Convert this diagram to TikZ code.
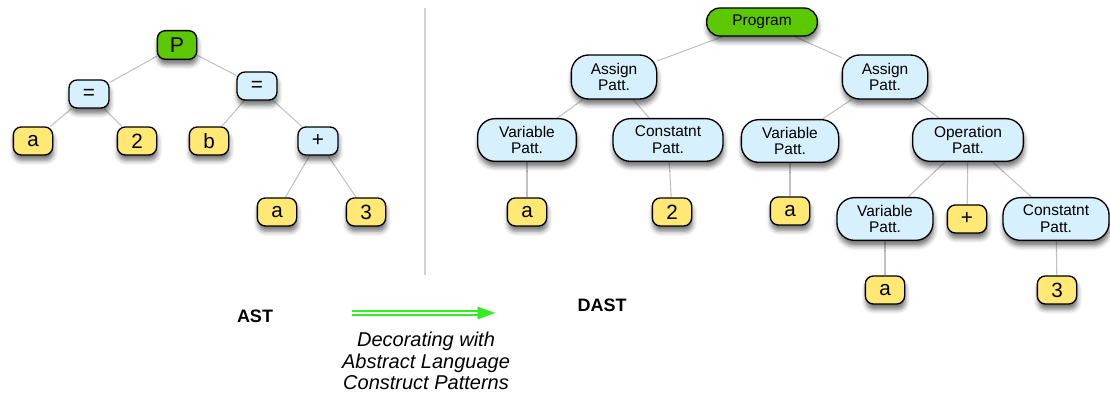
\documentclass[tikz,border=0pt]{standalone}
\usepackage{fontspec}
\setmainfont{Liberation Sans}
\usetikzlibrary{shadows.blur,arrows.meta}
\pgfdeclarelayer{background}
\pgfsetlayers{background,main}
\definecolor{leafyellow}{HTML}{FFE873}
\definecolor{pattblue}{HTML}{D6F1FD}
\definecolor{rootgreen}{HTML}{5CC800}
\definecolor{edgegray}{HTML}{C2C2C2}
\definecolor{divgray}{HTML}{D0D0D0}
\definecolor{arrowgreen}{HTML}{33EE22}
\tikzset{
  box/.style={draw=black, line width=1pt, inner sep=0pt, align=center,
    blur shadow={shadow xshift=0.6pt, shadow yshift=-4pt, shadow blur radius=3.5pt, shadow opacity=55}},
  leaf/.style={box, fill=leafyellow, minimum width=29.5pt, minimum height=21pt,
    rounded corners=6pt, font=\fontsize{15.5}{16}\selectfont},
  opnode/.style={box, fill=pattblue, minimum width=30pt, minimum height=21pt,
    rounded corners=6pt, font=\fontsize{15.5}{16}\selectfont},
  rootnode/.style={box, fill=rootgreen, minimum width=29.5pt, minimum height=21.5pt,
    rounded corners=6pt, font=\fontsize{16}{16}\selectfont},
  progbox/.style={box, fill=rootgreen, minimum width=83pt, minimum height=21pt,
    rounded corners=10pt, font=\fontsize{11.6}{12.6}\selectfont},
  patt/.style={box, fill=pattblue, minimum height=32pt,
    rounded corners=13pt, font=\fontsize{11.6}{12.6}\selectfont},
  edge/.style={draw=edgegray, line width=0.8pt},
  caption/.style={font=\bfseries\fontsize{13.5}{15}\selectfont},
}
\begin{document}
\begin{tikzpicture}[x=0.75pt, y=-0.75pt]
\useasboundingbox (0,0) rectangle (1110,398);
% ---------- AST ----------
\node[rootnode] (P) at (177,45) {P};
\node[opnode] (eqL) at (89,94) {=};
\node[opnode] (eqR) at (257,86) {=};
\node[leaf] (la) at (33,141) {a};
\node[leaf] (l2) at (137,141) {2};
\node[leaf] (lb) at (209,141) {b};
\node[opnode] (lplus) at (318,141) {+};
\node[leaf] (la2) at (277,212) {a};
\node[leaf] (l3) at (366,212) {3};
% ---------- DAST ----------
\node[progbox] (prog) at (762,22) {Program};
\node[patt, minimum width=64pt, minimum height=33pt] (asL) at (614,77) {Assign\\Patt.};
\node[patt, minimum width=64pt, minimum height=33pt] (asR) at (885,77) {Assign\\Patt.};
\node[patt, minimum width=74pt] (var1) at (527,140) {Variable\\Patt.};
\node[patt, minimum width=82.5pt] (con1) at (668,140) {Constatnt\\Patt.};
\node[patt, minimum width=73pt] (var2) at (790,141) {Variable\\Patt.};
\node[patt, minimum width=83pt] (oper) at (968,140) {Operation\\Patt.};
\node[leaf] (ra1) at (527,212) {a};
\node[leaf] (r2) at (672,212) {2};
\node[leaf] (ra2) at (790,211) {a};
\node[patt, minimum width=72pt] (var3) at (885,219) {Variable\\Patt.};
\node[leaf] (rplus) at (967,219) {+};
\node[patt, minimum width=79.5pt] (con2) at (1056,219) {Constatnt\\Patt.};
\node[leaf] (ra3) at (885,290) {a};
\node[leaf] (r3) at (1057,290) {3};
% ---------- captions ----------
\node[caption] (ast) at (255,316) {AST};
\node[caption] (dast) at (602,305) {DAST};
\node[font=\itshape\fontsize{15}{16.2}\selectfont, align=center] (deco) at (426,361)
  {Decorating with\\Abstract Language\\Construct Patterns};
\coordinate (arrS) at (352,313);
\coordinate (arrH) at (478,313);
\coordinate (arrE) at (495,313);
\draw[draw=arrowgreen, double=white, line width=1.6pt, double distance=1.5pt] (arrS) -- (arrH);
\draw[arrowgreen, line width=0.1pt, -{Triangle[length=13pt, width=9.5pt]}] (arrH) -- (arrE);
% divider
\coordinate (divT) at (425,8);
\coordinate (divB) at (425,275);
\draw[divgray, line width=0.9pt] (divT) -- (divB);
% ---------- edges ----------
\begin{pgfonlayer}{background}
\draw[edge] (P) -- (eqL);
\draw[edge] (P) -- (eqR);
\draw[edge] (eqL) -- (la);
\draw[edge] (eqL) -- (l2);
\draw[edge] (eqR) -- (lb);
\draw[edge] (eqR) -- (lplus);
\draw[edge] (lplus) -- (la2);
\draw[edge] (lplus) -- (l3);
\draw[edge] (prog) -- (asL);
\draw[edge] (prog) -- (asR);
\draw[edge] (asL) -- (var1);
\draw[edge] (asL) -- (con1);
\draw[edge] (asR) -- (var2);
\draw[edge] (asR) -- (oper);
\draw[edge] (var1) -- (ra1);
\draw[edge] (con1) -- (r2);
\draw[edge] (var2) -- (ra2);
\draw[edge] (oper) -- (var3);
\draw[edge] (oper) -- (rplus);
\draw[edge] (oper) -- (con2);
\draw[edge] (var3) -- (ra3);
\draw[edge] (con2) -- (r3);
\end{pgfonlayer}
\end{tikzpicture}
\end{document}
